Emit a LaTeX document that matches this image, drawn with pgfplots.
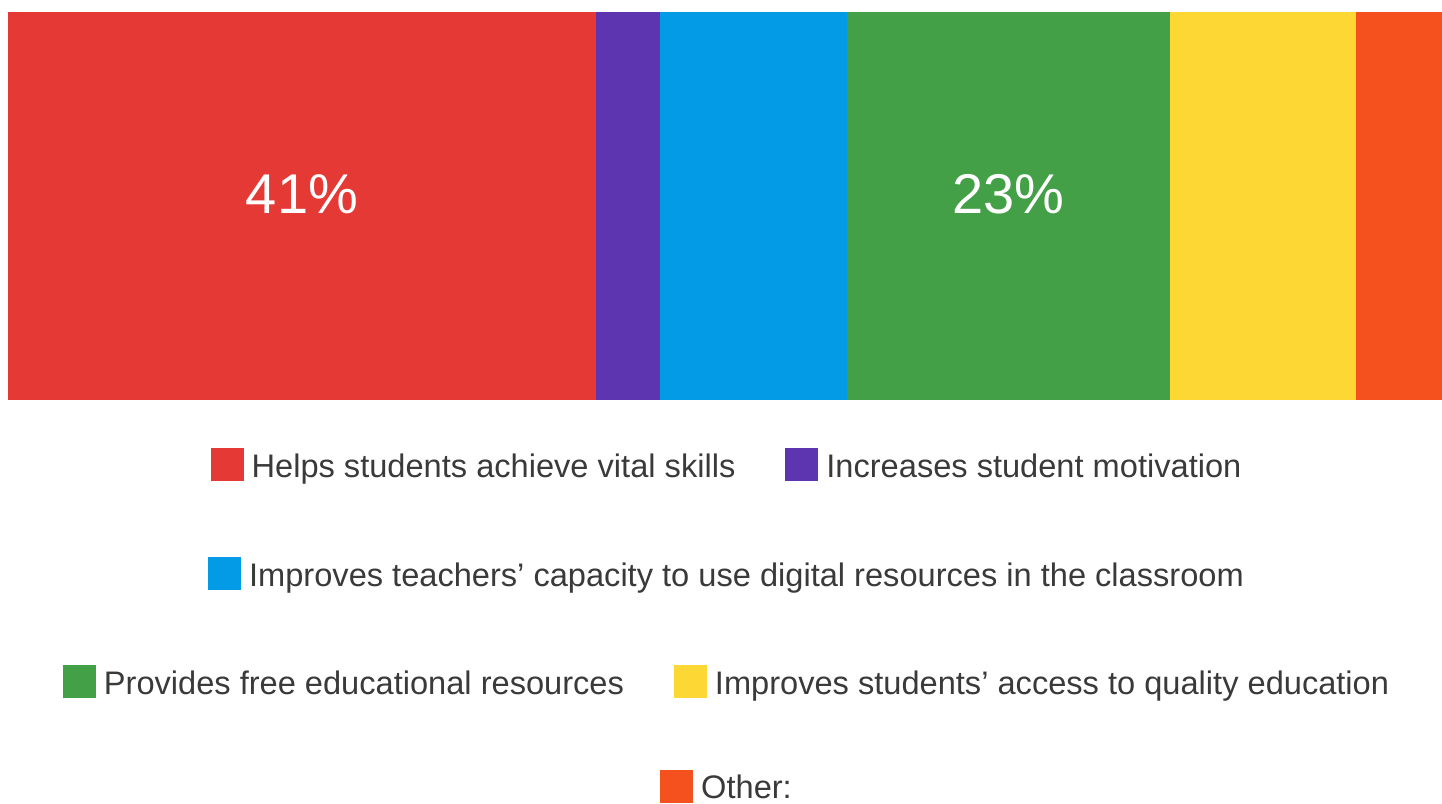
\documentclass[border=0pt]{standalone}
\usepackage{pgfplots}
\pgfplotsset{compat=1.18}
\usepackage{fontspec}
\setmainfont{Liberation Sans}
\definecolor{cRed}{HTML}{E53935}
\definecolor{cPurple}{HTML}{5E35B1}
\definecolor{cBlue}{HTML}{039BE5}
\definecolor{cGreen}{HTML}{43A047}
\definecolor{cYellow}{HTML}{FDD835}
\definecolor{cOrange}{HTML}{F4511E}
\definecolor{txt}{HTML}{3A3A3A}
\newcommand{\sq}[1]{\raisebox{-1.8pt}{\textcolor{#1}{\rule{16.5pt}{16.5pt}}}\hspace{4pt}}
\begin{document}
\begin{tikzpicture}
\path[use as bounding box] (0,0) rectangle (721pt,-402pt);
\begin{axis}[
  at={(4pt,-6pt)}, anchor=north west,
  scale only axis, width=717pt, height=194pt,
  xbar stacked, bar width=194pt,
  xmin=0, xmax=100, ymin=-0.5, ymax=0.5,
  enlargelimits=false, hide axis,
  every axis plot/.append style={draw=none},
]
\addplot[fill=cRed] coordinates {(41,0)};
\addplot[fill=cPurple] coordinates {(4.5,0)};
\addplot[fill=cBlue] coordinates {(13,0)};
\addplot[fill=cGreen] coordinates {(22.5,0)};
\addplot[fill=cYellow] coordinates {(13,0)};
\addplot[fill=cOrange] coordinates {(6,0)};
\coordinate (lA) at (axis cs:20.5,0.03);
\coordinate (lB) at (axis cs:69.75,0.03);
\end{axis}
\node[white, font=\fontsize{28}{32}\selectfont, inner sep=0pt] at (lA) {41\%};
\node[white, font=\fontsize{28}{32}\selectfont, inner sep=0pt] at (lB) {23\%};
\begin{scope}[every node/.style={text=txt, font=\fontsize{16.3}{19}\selectfont, inner sep=0pt}]
\node at (363pt,-233pt) {\sq{cRed}Helps students achieve vital skills\hspace{25pt}\sq{cPurple}Increases student motivation};
\node at (363pt,-287.5pt) {\sq{cBlue}Improves teachers’ capacity to use digital resources in the classroom};
\node at (363pt,-341.5pt) {\sq{cGreen}Provides free educational resources\hspace{25pt}\sq{cYellow}Improves students’ access to quality education};
\node at (363pt,-393pt) {\sq{cOrange}Other:};
\end{scope}
\end{tikzpicture}
\end{document}
